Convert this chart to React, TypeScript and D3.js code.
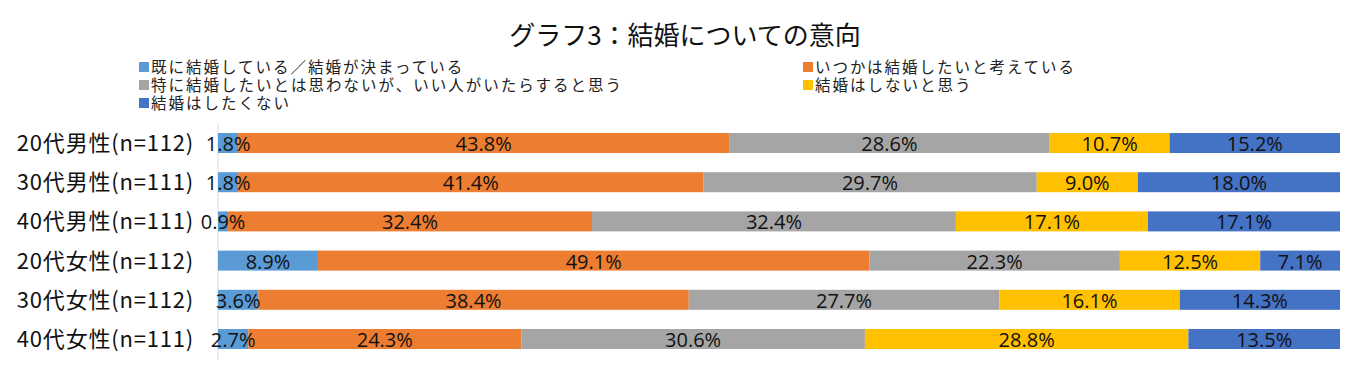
import React from 'react';
import * as d3 from 'd3';

const categories = [
  '20代男性(n=112)',
  '30代男性(n=111)',
  '40代男性(n=111)',
  '20代女性(n=112)',
  '30代女性(n=112)',
  '40代女性(n=111)',
];

const seriesNames = [
  '既に結婚している／結婚が決まっている',
  'いつかは結婚したいと考えている',
  '特に結婚したいとは思わないが、いい人がいたらすると思う',
  '結婚はしないと思う',
  '結婚はしたくない',
];

const married = [1.8, 1.8, 0.9, 8.9, 3.6, 2.7];
const someday = [43.8, 41.4, 32.4, 49.1, 38.4, 24.3];
const ifGood = [28.6, 29.7, 32.4, 22.3, 27.7, 30.6];
const wontMarry = [10.7, 9.0, 17.1, 12.5, 16.1, 28.8];
const dontWant = [15.2, 18.0, 17.1, 7.1, 14.3, 13.5];

const colors = ['#5B9BD5', '#ED7D31', '#A5A5A5', '#FFC000', '#4472C4'];

const W = 1368;
const H = 368;
const JP = '"Noto Sans CJK JP", "Noto Sans", sans-serif';
const NUM = '"Open Sans", "Noto Sans CJK JP", sans-serif';

export default function App() {
  const series = [married, someday, ifGood, wontMarry, dontWant];

  // 100% stacked: each row normalised by its own total
  const rows = categories.map((c, i) => {
    const vals = series.map((s) => s[i]);
    const total = d3.sum(vals);
    let acc = 0;
    return vals.map((v, k) => {
      const start = acc / total;
      acc += v;
      return { cat: c, k, v, x0: start, x1: acc / total };
    });
  });

  const x = d3.scaleLinear().domain([0, 1]).range([218, 1340]);
  const y = d3
    .scaleBand()
    .domain(categories)
    .range([123.4, 358.6])
    .paddingInner(0.49)
    .paddingOuter(0.245);

  const legendPos = [
    { x: 139, y: 67 },
    { x: 803, y: 67 },
    { x: 139, y: 85 },
    { x: 803, y: 85 },
    { x: 139, y: 103 },
  ];

  return (
    <svg
      width={W}
      height={H}
      style={{ position: 'absolute', left: 0, top: 0, background: '#fff' }}
    >
      <text
        x={685}
        y={45}
        textAnchor="middle"
        fontFamily={JP}
        fontSize={26}
        fill="#111"
      >
        グラフ3：結婚についての意向
      </text>

      {seriesNames.map((name, k) => (
        <g key={name} transform={`translate(${legendPos[k].x},${legendPos[k].y})`}>
          <rect x={0} y={-5} width={10} height={10} fill={colors[k]} />
          <text
            x={12}
            y={0}
            dy="0.36em"
            fontFamily={JP}
            fontSize={15.5}
            letterSpacing={2}
            fill="#222"
          >
            {name}
          </text>
        </g>
      ))}

      <line x1={218} x2={218} y1={124} y2={360} stroke="#D9D9D9" strokeWidth={1} />

      {rows.map((segs, i) => {
        const yy = y(categories[i]) as number;
        const bw = y.bandwidth();
        return (
          <g key={categories[i]}>
            <text
              x={194}
              y={yy + bw / 2}
              dy="0.36em"
              textAnchor="end"
              fontFamily={JP}
              fontSize={22}
              letterSpacing={0.8}
              fill="#111"
            >
              {categories[i]}
            </text>
            {segs.map((s) => (
              <rect
                key={s.k}
                x={x(s.x0)}
                y={yy}
                width={x(s.x1) - x(s.x0)}
                height={bw}
                fill={colors[s.k]}
              />
            ))}
            {segs.map((s) => (
              <text
                key={'t' + s.k}
                x={(x(s.x0) + x(s.x1)) / 2}
                y={yy + bw / 2}
                dy="0.4em"
                textAnchor="middle"
                fontFamily={NUM}
                fontSize={20}
                fill="#111"
              >
                {s.v.toFixed(1)}%
              </text>
            ))}
          </g>
        );
      })}
    </svg>
  );
}
